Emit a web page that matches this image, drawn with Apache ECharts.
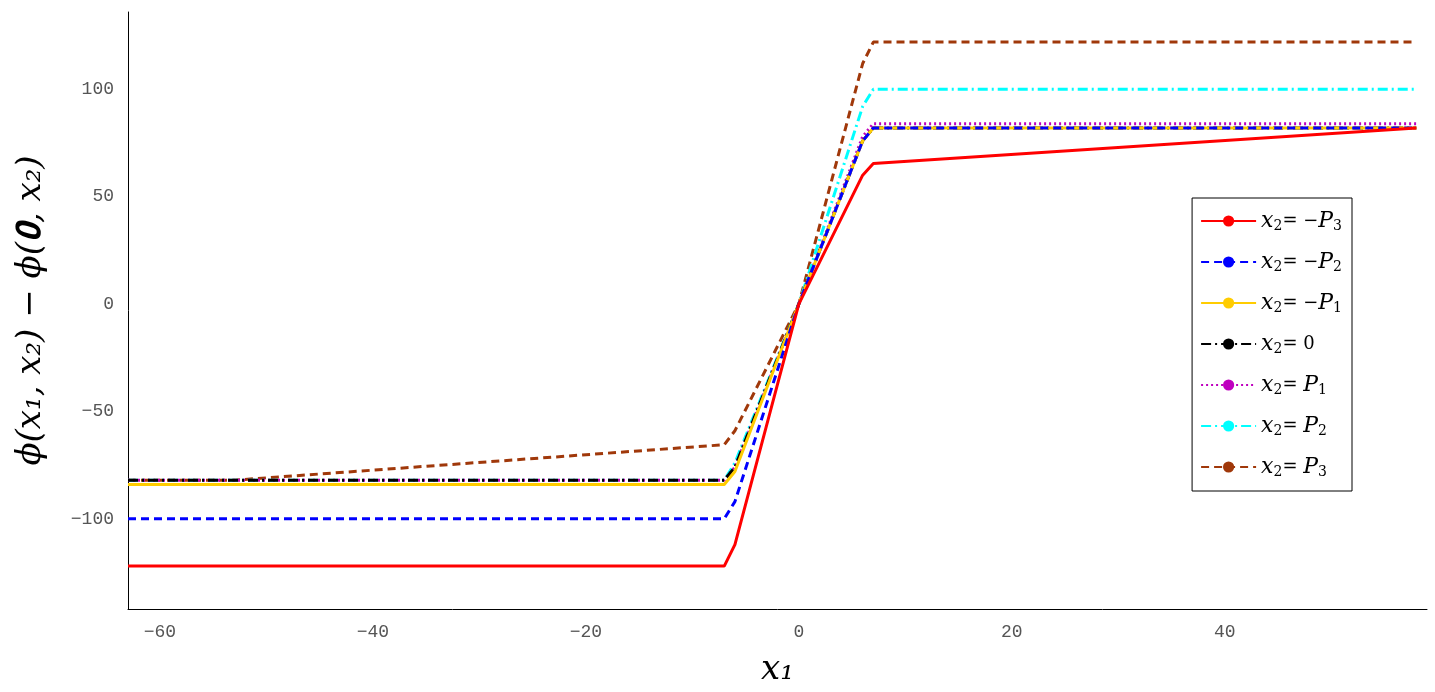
<!DOCTYPE html><html><head><meta charset="utf-8"><script src="https://cdn.jsdelivr.net/npm/echarts@6/dist/echarts.min.js"></script></head><body style="margin:0"><div id="c" style="width:1435px;height:692px"></div><script>
const xNeg3=[-63,-7,-6,0,6,7,58], yNeg3=[-122,-122,-112,0,60,65.5,82];
const xNeg2=[-63,-7,-6,0,6,7,58], yNeg2=[-100,-100,-92,0,76,82,82];
const xNeg1=[-63,-7,-6,0,6,7,58], yNeg1=[-84,-84,-78,0,76,82,82];
const xZero=[-63,-7,-6,0,6,7,58], yZero=[-82,-82,-76,0,76,82,82];
const xPos1=[-63,-7,-6,0,6,7,58], yPos1=[-82,-82,-76,0,78,84,84];
const xPos2=[-63,-7,-6,0,6,7,58], yPos2=[-82,-82,-74,0,92,100,100];
const xPos3=[-63,-53,-7,-6,0,6,7,58], yPos3=[-82,-82,-65.5,-59,0,112,122,122];
const xTicks=[-60,-40,-20,0,20,40], yTicks=[-100,-50,0,50,100];
const names=['x2=-P3','x2=-P2','x2=-P1','x2=0','x2=P1','x2=P2','x2=P3'];
const labels={'x2=-P3':'{i|x}{s|2}{n|= −}{i|P}{s|3}','x2=-P2':'{i|x}{s|2}{n|= −}{i|P}{s|2}','x2=-P1':'{i|x}{s|2}{n|= −}{i|P}{s|1}','x2=0':'{i|x}{s|2}{n|= 0}','x2=P1':'{i|x}{s|2}{n|= }{i|P}{s|1}','x2=P2':'{i|x}{s|2}{n|= }{i|P}{s|2}','x2=P3':'{i|x}{s|2}{n|= }{i|P}{s|3}'};
const xs=[xNeg3,xNeg2,xNeg1,xZero,xPos1,xPos2,xPos3], ys=[yNeg3,yNeg2,yNeg1,yZero,yPos1,yPos2,yPos3];
const colors=['#ff0000','#0000ff','#ffcc00','#000000','#bf00bf','#00ffff','#a0380a'];
const types=['solid',[8,5],'solid',[10,4,2,4],[2,3],[10,4,2,4],[8,5]];
const lab={fontFamily:'Liberation Mono',fontSize:18,color:'#555',formatter:v=>String(v).replace('-','−')};
const ch=echarts.init(document.getElementById('c'));
ch.setOption({animation:false,
grid:{left:128,right:8,top:12,bottom:74},
xAxis:{type:'value',min:-63,max:59,axisLine:{onZero:false,lineStyle:{color:'#000'}},splitLine:{show:false},axisTick:{show:false},
 axisLabel:Object.assign({customValues:xTicks,margin:14},lab),
 name:'x₁',nameLocation:'middle',nameGap:44,nameTextStyle:{fontFamily:'DejaVu Serif',fontStyle:'italic',fontSize:34,color:'#000'}},
yAxis:{type:'value',min:-142,max:136,axisLine:{show:true,onZero:false,lineStyle:{color:'#000'}},splitLine:{show:false},axisTick:{show:false},
 axisLabel:Object.assign({customValues:yTicks,margin:14},lab),
 name:'ϕ(x₁, x₂) − ϕ(𝟎, x₂)',nameLocation:'middle',nameGap:80,nameTextStyle:{fontFamily:'DejaVu Serif',fontStyle:'italic',fontSize:34,color:'#000'}},
legend:{orient:'vertical',right:83,top:198,width:180,itemGap:18,itemWidth:55,itemHeight:14,backgroundColor:'#fff',borderColor:'#000',borderWidth:1,padding:[12,10,12,8],
 data:names,formatter:n=>labels[n],
 textStyle:{rich:{i:{fontFamily:'DejaVu Serif',fontStyle:'italic',fontSize:22,color:'#000'},s:{fontFamily:'DejaVu Serif',fontSize:14,verticalAlign:'bottom',padding:[10,0,0,0],color:'#000'},n:{fontFamily:'DejaVu Serif',fontSize:18,color:'#000'}}}},
series:names.map((n,k)=>({name:n,type:'line',symbol:'none',legendIcon:'path://M0,0L1,0',data:xs[k].map((x,j)=>[x,ys[k][j]]),lineStyle:{color:colors[k],width:3,type:types[k]},itemStyle:{color:colors[k]},z:k===0?10:(7-k)}))
});
</script></body></html>
